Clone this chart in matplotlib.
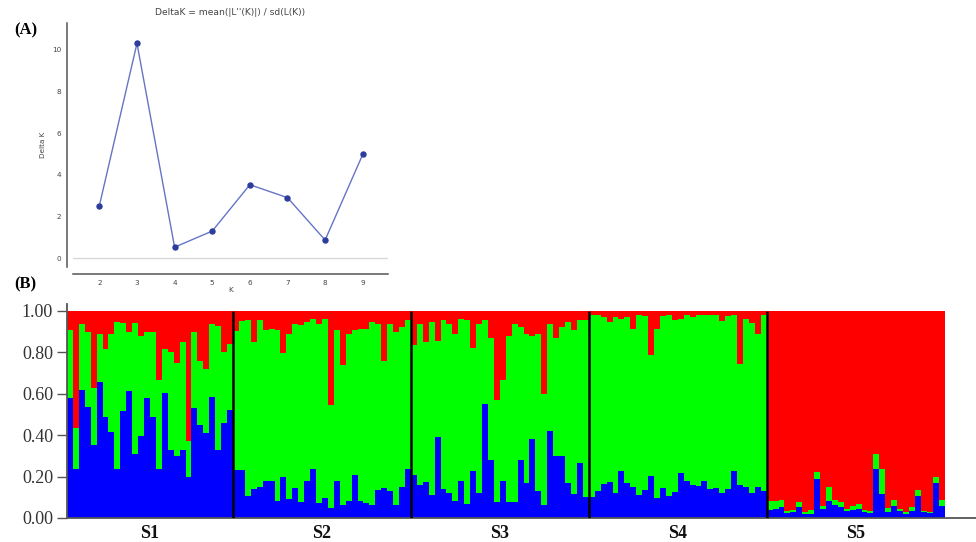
import numpy as np
import matplotlib
matplotlib.use("Agg")
import matplotlib.pyplot as plt

# ---- panel A: Evanno delta K ----
k_values = [2, 3, 4, 5, 6, 7, 8, 9]
delta_k = [2.52, 10.3, 0.54, 1.31, 3.53, 2.91, 0.88, 4.98]

# ---- panel B: admixture proportions (K=3) per population ----
groups = ["S1", "S2", "S3", "S4", "S5"]

blue_s1 = [0.58, 0.238, 0.62, 0.536, 0.353, 0.657, 0.49, 0.415, 0.238, 0.515, 0.613, 0.31, 0.395, 0.58,
           0.488, 0.238, 0.605, 0.33, 0.298, 0.33, 0.20, 0.53, 0.45, 0.41, 0.585, 0.33, 0.46, 0.52]
top_s1 = [0.906, 0.435, 0.935, 0.90, 0.628, 0.89, 0.815, 0.887, 0.947, 0.942, 0.90, 0.942, 0.88, 0.90,
          0.90, 0.665, 0.815, 0.80, 0.75, 0.85, 0.37, 0.90, 0.757, 0.72, 0.935, 0.927, 0.80, 0.84]

blue_s2 = [0.233, 0.233, 0.104, 0.14, 0.152, 0.18, 0.18, 0.08, 0.20, 0.09, 0.145, 0.075, 0.18, 0.236, 0.07,
           0.096, 0.048, 0.18, 0.061, 0.08, 0.21, 0.08, 0.072, 0.064, 0.136, 0.145, 0.13, 0.061, 0.152, 0.236]
top_s2 = [0.902, 0.952, 0.958, 0.851, 0.955, 0.907, 0.913, 0.907, 0.795, 0.89, 0.939, 0.931, 0.947, 0.963, 0.936,
          0.963, 0.546, 0.91, 0.738, 0.89, 0.91, 0.915, 0.915, 0.947, 0.936, 0.76, 0.936, 0.90, 0.923, 0.955]

blue_s3 = [0.209, 0.16, 0.172, 0.112, 0.393, 0.14, 0.12, 0.08, 0.18, 0.069, 0.225, 0.12, 0.549, 0.281, 0.075,
           0.18, 0.075, 0.075, 0.281, 0.169, 0.38, 0.128, 0.064, 0.422, 0.297, 0.297, 0.169, 0.116, 0.265, 0.10]
top_s3 = [0.835, 0.936, 0.851, 0.947, 0.856, 0.955, 0.936, 0.89, 0.963, 0.955, 0.823, 0.936, 0.955, 0.867, 0.57,
          0.666, 0.878, 0.936, 0.923, 0.89, 0.878, 0.89, 0.60, 0.936, 0.867, 0.923, 0.947, 0.91, 0.958, 0.955]

blue_s4 = [0.10, 0.128, 0.164, 0.172, 0.12, 0.225, 0.169, 0.152, 0.112, 0.136, 0.204, 0.096, 0.145, 0.108, 0.124,
           0.217, 0.181, 0.161, 0.156, 0.177, 0.14, 0.145, 0.12, 0.14, 0.225, 0.161, 0.152, 0.12, 0.152, 0.128]
top_s4 = [0.979, 0.979, 0.971, 0.947, 0.971, 0.963, 0.971, 0.915, 0.979, 0.975, 0.787, 0.915, 0.975, 0.979, 0.958,
          0.963, 0.979, 0.971, 0.979, 0.979, 0.979, 0.979, 0.952, 0.975, 0.979, 0.746, 0.963, 0.942, 0.89, 0.979]

blue_s5 = [0.037, 0.043, 0.053, 0.024, 0.029, 0.053, 0.019, 0.019, 0.188, 0.043, 0.083, 0.064, 0.053, 0.032, 0.04,
           0.043, 0.027, 0.024, 0.238, 0.117, 0.029, 0.059, 0.032, 0.019, 0.035, 0.108, 0.029, 0.024, 0.169, 0.059]
top_s5 = [0.08, 0.083, 0.088, 0.035, 0.04, 0.075, 0.027, 0.037, 0.223, 0.059, 0.152, 0.088, 0.075, 0.043, 0.059,
          0.067, 0.04, 0.032, 0.308, 0.236, 0.048, 0.088, 0.045, 0.027, 0.053, 0.136, 0.032, 0.029, 0.20, 0.088]

blue = np.array(blue_s1 + blue_s2 + blue_s3 + blue_s4 + blue_s5)
top = np.array(top_s1 + top_s2 + top_s3 + top_s4 + top_s5)
green = top - blue
red = 1.0 - top
sizes = [len(blue_s1), len(blue_s2), len(blue_s3), len(blue_s4), len(blue_s5)]

serif = "Liberation Serif"

fig = plt.figure(figsize=(9.76, 5.42), dpi=100)

# panel A
axa = fig.add_axes([0.0748, 0.507, 0.3227, 0.450])
axa.axhline(0, color="#d8d8d8", lw=1, zorder=1)
axa.plot(k_values, delta_k, color="#6674c4", lw=1, marker="o", ms=3.6,
         mfc="#2c3d9c", mec="#2c3d9c", zorder=3)
axa.set_xlim(1.3, 9.67)
axa.set_ylim(-0.42, 11.26)
axa.set_xticks(k_values)
axa.set_yticks([0, 2, 4, 6, 8, 10])
for side in ["top", "right"]:
    axa.spines[side].set_visible(False)
axa.spines["left"].set_position(("outward", 4.5))
axa.spines["bottom"].set_position(("outward", 5))
for side in ["left", "bottom"]:
    axa.spines[side].set_color("#555555")
    axa.spines[side].set_linewidth(1.1)
axa.tick_params(labelsize=5.2, colors="#444444", length=0, pad=4)
axa.set_xlabel("K", fontsize=5.2, color="#444444", labelpad=1)
axa.set_ylabel("Delta K", fontsize=5.2, color="#444444", labelpad=4)
axa.set_title("DeltaK = mean(|L''(K)|) / sd(L(K))", fontsize=6.6, color="#444444", pad=6)

# panel B
axb = fig.add_axes([0.0686, 0.0443, 0.931, 0.395])
x = np.arange(len(blue))
axb.bar(x, blue, width=1.0, color="#0000ff", linewidth=0)
axb.bar(x, green, width=1.0, bottom=blue, color="#00ff00", linewidth=0)
axb.bar(x, red, width=1.0, bottom=top, color="#ff0000", linewidth=0)

edges = np.cumsum(sizes)
axb.vlines(edges[:-1] - 0.5, 0, 1, color="black", lw=1.8, zorder=4)
centers = np.concatenate([[0], edges[:-1]]) + np.array(sizes) / 2 - 0.5

bar_px = 877 / len(blue)
axb.set_xlim(-0.5, -0.5 + 908 / bar_px)
axb.set_ylim(0, 1.034)
axb.set_yticks([0, 0.2, 0.4, 0.6, 0.8, 1.0])
axb.set_yticklabels(["%.2f" % v for v in [0, 0.2, 0.4, 0.6, 0.8, 1.0]],
                    fontfamily=serif, fontsize=13, color="#333333")
axb.set_xticks(centers)
axb.set_xticklabels(groups, fontfamily=serif, fontsize=13, fontweight="bold", color="#111111")
axb.tick_params(axis="x", length=0, pad=5)
axb.tick_params(axis="y", length=7, width=1, color="#555555", pad=3)
for side in ["top", "right"]:
    axb.spines[side].set_visible(False)
for side in ["left", "bottom"]:
    axb.spines[side].set_color("#555555")
    axb.spines[side].set_linewidth(1.3)

fig.text(0.015, 1 - 30 / 542, "(A)", fontfamily=serif, fontsize=12, fontweight="bold", va="center")
fig.text(0.015, 1 - 284 / 542, "(B)", fontfamily=serif, fontsize=12, fontweight="bold", va="center")

fig.savefig("out.png", dpi=100)
